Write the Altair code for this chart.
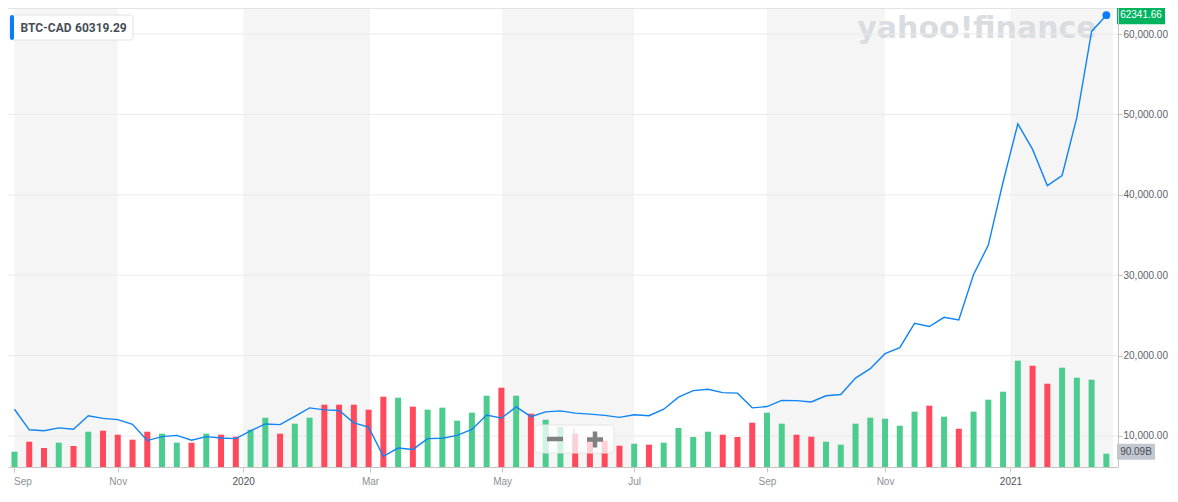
import json
import altair as alt
import pandas as pd

# ---------------- data ----------------
week = list(range(75))
close = [13330, 10770, 10650, 11010, 10850, 12520, 12190, 12030, 11460, 9430,
         9920, 10080, 9470, 9920, 9760, 9670, 10650, 11500, 11420, 12440,
         13500, 13250, 13170, 11630, 11100, 7480, 8500, 8330, 9670, 9720,
         10080, 10810, 12600, 12230, 13620, 12400, 13000, 13130, 12840, 12720,
         12560, 12320, 12640, 12520, 13330, 14840, 15650, 15810, 15400, 15330,
         13500, 13660, 14430, 14400, 14230, 15000, 15160, 17200, 18370, 20240,
         20980, 24020, 23620, 24760, 24430, 30080, 33740, 41590, 48820, 45650,
         41140, 42400, 49630, 60319.29, 62341.66]
volume_b = [103.6, 171.4, 128.7, 164.6, 142.3, 239.1, 245.9, 218.8, 184.9, 239.1,
            225.6, 164.6, 164.6, 225.6, 218.8, 205.3, 252.7, 334.0, 225.6, 293.3,
            334.0, 422.0, 422.0, 422.0, 388.2, 476.2, 469.4, 408.5, 388.2, 401.7,
            313.6, 367.8, 483.0, 537.2, 483.0, 361.1, 320.4, 271.0, 225.6, 191.7,
            178.2, 144.3, 157.8, 151.1, 164.6, 264.2, 203.2, 239.1, 218.8, 203.2,
            300.1, 367.8, 293.3, 218.8, 205.3, 171.4, 151.1, 293.3, 334.0, 327.2,
            279.8, 374.6, 415.2, 340.7, 259.4, 374.6, 455.9, 510.1, 720.1, 686.2,
            564.3, 672.7, 604.9, 591.4, 90.09]
direction = ("u d d u d u d d d d u u d u d d u u d u "
             "u d d d d d u d u u u u u d u d u u d d "
             "d d u d u u u u d d d u u d d u u u u u "
             "u u d u d u u u u d d u u u u").split()

price_ticks = [10000, 20000, 30000, 40000, 50000, 60000]
month_pos = [0, 7, 15.5, 24.1, 33.05, 42, 51, 59, 67.5]
month_lbl = ["Sep", "Nov", "2020", "Mar", "May", "Jul", "Sep", "Nov", "2021"]
band_start = [0, 15.5, 33.05, 51, 67.5]
band_end = [7, 24.1, 42, 59, 74.45]
symbol = "BTC-CAD"

# ---------------- layout / style ----------------
W, H = 1110, 459
X_DOMAIN = [-0.1, 74.45]
PRICE_DOMAIN = [6144, 63234]
VOL_DOMAIN = [0, 3109]
BLUE = "#0f84f5"
GREEN = "#4ccd8f"
RED = "#ff495c"
AXIS_GRAY = "#c6c6c6"

df = pd.DataFrame({
    "week": week,
    "close": close,
    "vol": volume_b,
    "dir": ["up" if d == "u" else "down" for d in direction],
})
last = df.iloc[[-1]].copy()
bands = pd.DataFrame({"start": band_start, "end": band_end})
grid = pd.DataFrame({"p": price_ticks})
one = pd.DataFrame({"k": [0]})
tip = pd.DataFrame({"sym": [symbol], "val": [close[-2]]})
mark_df = pd.DataFrame({"t": ["yahoo!finance"]})

xscale = alt.Scale(domain=X_DOMAIN, nice=False, zero=False)
pscale = alt.Scale(domain=PRICE_DOMAIN, nice=False, zero=False)
vscale = alt.Scale(domain=VOL_DOMAIN, nice=False, zero=True)

label_expr = f"{json.dumps(month_lbl)}[indexof({json.dumps(month_pos)}, datum.value)]"
year_test = " || ".join(f"datum.value == {p}" for p, l in zip(month_pos, month_lbl) if l.isdigit())
first_test = f"datum.value == {month_pos[0]}"

xaxis = alt.Axis(values=month_pos, labelExpr=label_expr, title=None, grid=False,
                 tickSize=5, tickColor=AXIS_GRAY, domainColor=AXIS_GRAY,
                 labelFont="Liberation Sans", labelFontSize=10, labelPadding=4,
                 labelColor={"condition": {"test": year_test, "value": "#4b5259"}, "value": "#8d9196"},
                 labelAlign={"condition": {"test": first_test, "value": "left"}, "value": "center"},
                 labelFlush=False, labelOffset={"condition": {"test": first_test, "value": -1}, "value": 0},
                 zindex=1)
yaxis = alt.Axis(orient="right", values=price_ticks, format=",.2f", title=None, grid=False,
                 tickSize=4, tickColor=AXIS_GRAY, domainColor=AXIS_GRAY,
                 labelFont="Liberation Sans", labelFontSize=10, labelColor="#5d6369",
                 labelPadding=1, zindex=1)


def X(field):
    return alt.X(field, type="quantitative", scale=xscale, axis=xaxis)


bands_layer = alt.Chart(bands).mark_rect(color="#f5f5f5").encode(
    x=X("start"), x2="end", y=alt.value(0), y2=alt.value(H))

watermark = alt.Chart(mark_df).mark_text(
    font="DejaVu Sans", fontWeight="bold", fontSize=30, color="#d9dce1",
    align="center", baseline="alphabetic").encode(
    text="t:N", x=alt.value(969), y=alt.value(29.5))

topline = alt.Chart(one).mark_rule(color="#e3e3e3", strokeWidth=1).encode(y=alt.value(0.5))

grid_layer = alt.Chart(grid).mark_rule(color="#ebebeb", strokeWidth=1).encode(
    y=alt.Y("p:Q", scale=pscale, axis=None))

bars = alt.Chart(df).mark_bar(width=6).encode(
    x=X("week"),
    y=alt.Y("vol:Q", scale=vscale, axis=None),
    color=alt.Color("dir:N", scale=alt.Scale(domain=["up", "down"], range=[GREEN, RED]), legend=None),
)

BOX = "M-1,-{h}L1,-{h}L1,{h}L-1,{h}Z"
gray_box = alt.Chart(last).mark_point(
    shape=BOX.format(h=round(8 / 19, 4)), size=38 * 38, filled=True, color="#c3c7cf",
    opacity=1, yOffset=-2).encode(
    x=alt.value(1128), y=alt.Y("vol:Q", scale=vscale, axis=None))
gray_text = alt.Chart(last).transform_calculate(
    lbl="format(datum.vol, '.2f') + 'B'").mark_text(
    font="Liberation Sans", fontSize=10, color="#464e56", align="center", baseline="middle",
    yOffset=-2).encode(
    x=alt.value(1128), y=alt.Y("vol:Q", scale=vscale, axis=None), text="lbl:N")

line = alt.Chart(df).mark_line(color=BLUE, strokeWidth=1.4).encode(
    x=X("week"), y=alt.Y("close:Q", scale=pscale, axis=yaxis))

dot = alt.Chart(last).mark_circle(size=60, color="#0a7cff", opacity=1).encode(
    x=X("week"), y=alt.Y("close:Q", scale=pscale, axis=None))

green_box = alt.Chart(last).mark_point(
    shape=BOX.format(h=0.375), size=48 * 48, filled=True, color="#00b35f", opacity=1).encode(
    x=alt.value(1133), y=alt.Y("close:Q", scale=pscale, axis=None))
green_text = alt.Chart(last).mark_text(
    font="Liberation Sans", fontSize=10, color="white", align="center", baseline="middle").encode(
    x=alt.value(1133), y=alt.Y("close:Q", scale=pscale, axis=None),
    text=alt.Text("close:Q", format=".2f"))

tip_box = alt.Chart(tip).mark_rect(fill="white", stroke="#e2e2e2", strokeWidth=1, cornerRadius=3).encode(
    x=alt.value(2), x2=alt.value(125), y=alt.value(7), y2=alt.value(32))
tip_strip = alt.Chart(tip).mark_rect(fill="#0a7cff", cornerRadius=2).encode(
    x=alt.value(2), x2=alt.value(6), y=alt.value(7), y2=alt.value(32))
tip_sym = alt.Chart(tip).mark_text(
    font="Roboto", fontWeight="bold", fontSize=12, color="#464e56", align="left", baseline="middle").encode(
    x=alt.value(12.5), y=alt.value(19.5), text="sym:N")
tip_val = alt.Chart(tip).mark_text(
    font="Roboto", fontWeight="bold", fontSize=12, color="#464e56", align="left", baseline="middle").encode(
    x=alt.value(67), y=alt.value(19.5), text=alt.Text("val:Q", format=".2f"))

OV_Y = H - 42  # zoom control sits just above the date axis
overlay = alt.Chart(one).mark_rect(fill="white", fillOpacity=0.75, stroke="#e6e6e6",
                                   strokeWidth=1, cornerRadius=4).encode(
    x=alt.value(527), x2=alt.value(606), y=alt.value(OV_Y), y2=alt.value(OV_Y + 28))
divider = alt.Chart(one).mark_rule(color="#dcdcdc", strokeWidth=1).encode(
    x=alt.value(566), y=alt.value(OV_Y + 4), y2=alt.value(OV_Y + 25))
minus = alt.Chart(one).mark_rule(color="#808080", strokeWidth=4.5).encode(
    x=alt.value(539), x2=alt.value(555), y=alt.value(OV_Y + 14))
plus_h = alt.Chart(one).mark_rule(color="#808080", strokeWidth=4.5).encode(
    x=alt.value(579), x2=alt.value(595), y=alt.value(OV_Y + 14.5))
plus_v = alt.Chart(one).mark_rule(color="#808080", strokeWidth=4.5).encode(
    x=alt.value(587), y=alt.value(OV_Y + 6.5), y2=alt.value(OV_Y + 22.5))

chart = alt.layer(
    bands_layer, watermark, topline, grid_layer, bars, line, dot,
    gray_box, gray_text, green_box, green_text,
    tip_box, tip_strip, tip_sym, tip_val,
    overlay, divider, minus, plus_h, plus_v,
).resolve_scale(y="independent").properties(
    width=W, height=H,
    padding={"left": 0, "top": 0, "right": 52, "bottom": 21},
    autosize=alt.AutoSizeParams(type="none"),
    background="white",
).configure_view(stroke=None)

chart.save("out.html", embed_options={"renderer": "svg", "actions": False})
